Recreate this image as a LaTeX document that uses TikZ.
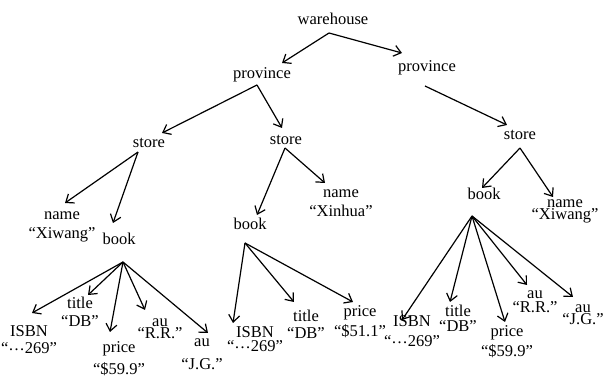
\documentclass[tikz,border=0pt]{standalone}
\usepackage{fontspec}
\setmainfont{Liberation Serif}
\usetikzlibrary{arrows.meta}
\newcommand{\mdots}{\raisebox{0.24em}{…}}
\begin{document}
\begin{tikzpicture}[x=1pt,y=-1pt,
  lbl/.style={anchor=base,inner sep=0pt,align=center,font=\fontsize{16.5}{19}\selectfont},
  arr/.style={-{Straight Barb[length=7pt,width=11pt]},line width=1.2pt}]
\useasboundingbox (0,0) rectangle (603,379);

% upper levels (nodes sit on the baseline of their last line)
\node[lbl] (wh)    at (333,25)  {warehouse};
\node[lbl] (provL) at (262,79)  {province};
\node[lbl] (provR) at (427,72)  {province};
\node[lbl] (storeL) at (149,148) {store};
\node[lbl] (storeM) at (286,145) {store};
\node[lbl] (storeR) at (520,140) {store};

% first store
\node[lbl] (nameL)  at (62,239)  {name\\“Xiwang”};
\node[lbl] (bookL)  at (119,245) {book};
\node[lbl] (isbnL)  at (29,354)  {ISBN\\[-2pt]“\mdots269”};
\node[lbl] (titleL) at (80,327)  {title\\[-1pt]“DB”};
\node[lbl] (priceL) at (119,375) {price\\[3pt]“\$59.9”};
\node[lbl] (auaL)   at (160,339) {au\\[-7pt]“R.R.”};
\node[lbl] (aubL)   at (202,370) {au\\[4pt]“J.G.”};

% second store
\node[lbl] (bookM)  at (250,230) {book};
\node[lbl] (nameM)  at (341,217) {name\\“Xinhua”};
\node[lbl] (isbnM)  at (255,352) {ISBN\\[-5pt]“\mdots269”};
\node[lbl] (titleM) at (306,339) {title\\[-2pt]“DB”};
\node[lbl] (priceM) at (360,337) {price\\[1pt]“\$51.1”};

% third store
\node[lbl] (bookR)  at (484,200) {book};
\node[lbl] (nameR)  at (565,220) {name\\[-7pt]“Xiwang”};
\node[lbl] (isbnR)  at (412,347) {ISBN\\[1pt]“\mdots269”};
\node[lbl] (titleR) at (458,332) {title\\[-4pt]“DB”};
\node[lbl] (priceR) at (507,357) {price\\[1pt]“\$59.9”};
\node[lbl] (auaR)   at (535,313) {au\\[-5pt]“R.R.”};
\node[lbl] (aubR)   at (583,325) {au\\[-7pt]“J.G.”};

% connectors
\draw[arr] ([shift={(-4,8)}]wh.base) -- ([shift={(20,-16)}]provL.base);
\draw[arr] ([shift={(-4,8)}]wh.base) -- ([shift={(-25,-19)}]provR.base);
\draw[arr] ([shift={(-5,6)}]provL.base) -- ([shift={(13,-15)}]storeL.base);
\draw[arr] ([shift={(-5,6)}]provL.base) -- ([shift={(-4,-17)}]storeM.base);
\draw[arr] ([shift={(-2,14)}]provR.base) -- ([shift={(-13,-15)}]storeR.base);

\draw[arr] ([shift={(-11,4)}]storeL.base) -- ([shift={(3,-36)}]nameL.base);
\draw[arr] ([shift={(-11,4)}]storeL.base) -- ([shift={(-6,-22)}]bookL.base);
\foreach \t/\s in {isbnL/{(3,-41)}, titleL/{(8,-32)}, priceL/{(-9,-43)}, auaL/{(-15,-29)}, aubL/{(6,-37)}}
  \draw[arr] ([shift={(4,17)}]bookL.base) -- ([shift=\s]\t.base);

\draw[arr] ([shift={(-1,3)}]storeM.base) -- ([shift={(7,-15)}]bookM.base);
\draw[arr] ([shift={(-1,3)}]storeM.base) -- ([shift={(-16,-34)}]nameM.base);
\foreach \t/\s in {isbnM/{(-22,-29)}, titleM/{(-12,-37)}, priceM/{(-7,-35)}}
  \draw[arr] ([shift={(-5,13)}]bookM.base) -- ([shift=\s]\t.base);

\draw[arr] ([shift={(0,8)}]storeR.base) -- ([shift={(-2,-12)}]bookR.base);
\draw[arr] ([shift={(0,8)}]storeR.base) -- ([shift={(-12,-23)}]nameR.base);
\foreach \t/\s in {isbnR/{(-10,-27)}, titleR/{(-8,-30)}, priceR/{(-2,-35)}, auaR/{(-8,-28)}, aubR/{(-10,-28)}}
  \draw[arr] ([shift={(-12,16)}]bookR.base) -- ([shift=\s]\t.base);
\end{tikzpicture}
\end{document}
